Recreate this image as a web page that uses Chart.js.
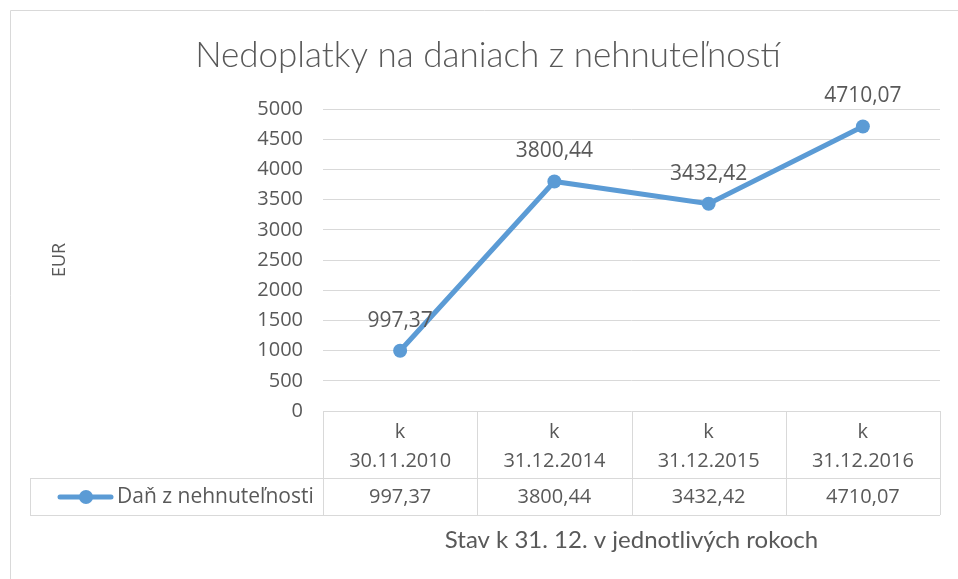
<!DOCTYPE html>
<html>
<head>
<meta charset="utf-8">
<script src="https://cdn.jsdelivr.net/npm/chart.js@4/dist/chart.umd.min.js"></script>
<style>
  html, body { margin: 0; padding: 0; background: #fff; }
  canvas { display: block; }
</style>
</head>
<body>
<canvas id="chart" width="958" height="579"></canvas>
<script>
// údaje grafu
const headTop = ["k", "k", "k", "k"];
const dates = ["30.11.2010", "31.12.2014", "31.12.2015", "31.12.2016"];
const values = [997.37, 3800.44, 3432.42, 4710.07];
const seriesName = "Daň z nehnuteľnosti";
const chartTitle = "Nedoplatky na daniach z nehnuteľností";
const yTitle = "EUR";
const xTitle = "Stav k 31. 12. v jednotlivých rokoch";

const textColor = "#595959";
const gridColor = "#d9d9d9";
const lineColor = "#5b9bd5";
const baseFont = "'Open Sans', sans-serif";
const titleFont = "Lato, 'Open Sans', sans-serif";

// formát čísla s desatinnou čiarkou
const fmt = v => v.toFixed(2).replace(".", ",");

const tablePlugin = {
  id: "tablePlugin",
  beforeDraw(chart) {
    const c = chart.ctx;
    c.save();
    c.strokeStyle = gridColor;
    c.lineWidth = 1;
    c.beginPath();
    c.moveTo(10.5, 600);
    c.lineTo(10.5, 10.5);
    c.lineTo(970, 10.5);
    c.stroke();
    c.restore();
  },
  afterDatasetsDraw(chart) {
    const c = chart.ctx;
    const meta = chart.getDatasetMeta(0);
    c.save();
    c.fillStyle = textColor;
    c.font = "21px " + baseFont;
    c.textAlign = "center";
    c.textBaseline = "middle";
    meta.data.forEach((pt, i) => {
      c.fillText(fmt(values[i]), pt.x, pt.y - 30);
    });
    c.restore();
  },
  afterDraw(chart) {
    const c = chart.ctx;
    const area = chart.chartArea;
    const x = chart.scales.x;
    const step = (area.right - area.left) / dates.length;
    const rowTop = area.bottom;
    const rowMid = area.bottom + 67;
    const rowBot = rowMid + 37;
    const legLeft = 30;

    c.save();
    c.strokeStyle = gridColor;
    c.lineWidth = 1;
    c.beginPath();
    c.moveTo(legLeft, rowMid + 0.5); c.lineTo(area.right, rowMid + 0.5);
    c.moveTo(legLeft, rowBot + 0.5); c.lineTo(area.right, rowBot + 0.5);
    c.moveTo(legLeft + 0.5, rowMid); c.lineTo(legLeft + 0.5, rowBot);
    for (let i = 0; i <= dates.length; i++) {
      const px = Math.round(area.left + i * step) + 0.5;
      c.moveTo(px, rowTop); c.lineTo(px, rowBot);
    }
    c.stroke();

    c.fillStyle = textColor;
    c.font = "20px " + baseFont;
    c.textAlign = "center";
    c.textBaseline = "middle";
    dates.forEach((d, i) => {
      const cx = x.getPixelForValue(i);
      c.fillText(headTop[i], cx, rowTop + 21);
      c.fillText(d, cx, rowTop + 50);
      c.fillText(fmt(values[i]), cx, rowMid + 19);
    });

    // legenda v tabuľke
    const ly = rowMid + 19;
    c.strokeStyle = lineColor;
    c.lineWidth = 5;
    c.lineCap = "round";
    c.beginPath();
    c.moveTo(60, ly); c.lineTo(111, ly);
    c.stroke();
    c.fillStyle = lineColor;
    c.beginPath();
    c.arc(86, ly, 7, 0, Math.PI * 2);
    c.fill();
    c.fillStyle = textColor;
    c.textAlign = "left";
    c.font = "21px " + baseFont;
    c.fillText(seriesName, 117, ly);

    // názov grafu a osi x
    c.textAlign = "center";
    c.font = "300 35px " + titleFont;
    c.fillText(chartTitle, 488, 56);
    c.font = "400 24px " + titleFont;
    c.fillText(xTitle, (area.left + area.right) / 2, rowBot + 25);
    c.restore();
  }
};

new Chart(document.getElementById("chart"), {
  type: "line",
  data: {
    labels: dates,
    datasets: [{
      label: seriesName,
      data: values,
      borderColor: lineColor,
      backgroundColor: lineColor,
      borderWidth: 5,
      pointRadius: 7,
      pointHoverRadius: 7,
      pointBackgroundColor: lineColor,
      pointBorderWidth: 0,
      tension: 0
    }]
  },
  options: {
    responsive: false,
    animation: false,
    layout: { padding: { left: 45, top: 109, right: 18, bottom: 168 } },
    plugins: {
      legend: { display: false },
      title: { display: false },
      tooltip: { enabled: false }
    },
    scales: {
      x: {
        type: "category",
        offset: true,
        ticks: { display: false },
        grid: { display: false },
        border: { display: false },
        afterFit(scale) { scale.height = 0; }
      },
      y: {
        min: 0,
        max: 5000,
        ticks: {
          stepSize: 500,
          padding: 20,
          color: textColor,
          font: { family: "'Open Sans', sans-serif", size: 20 },
          callback: v => String(v)
        },
        grid: { color: gridColor, drawTicks: false },
        border: { display: false },
        title: {
          display: true,
          text: yTitle,
          color: textColor,
          font: { family: "'Open Sans', sans-serif", size: 18 },
          padding: 4
        },
        afterFit(scale) { scale.width = 278; }
      }
    }
  },
  plugins: [tablePlugin]
});
</script>
</body>
</html>
